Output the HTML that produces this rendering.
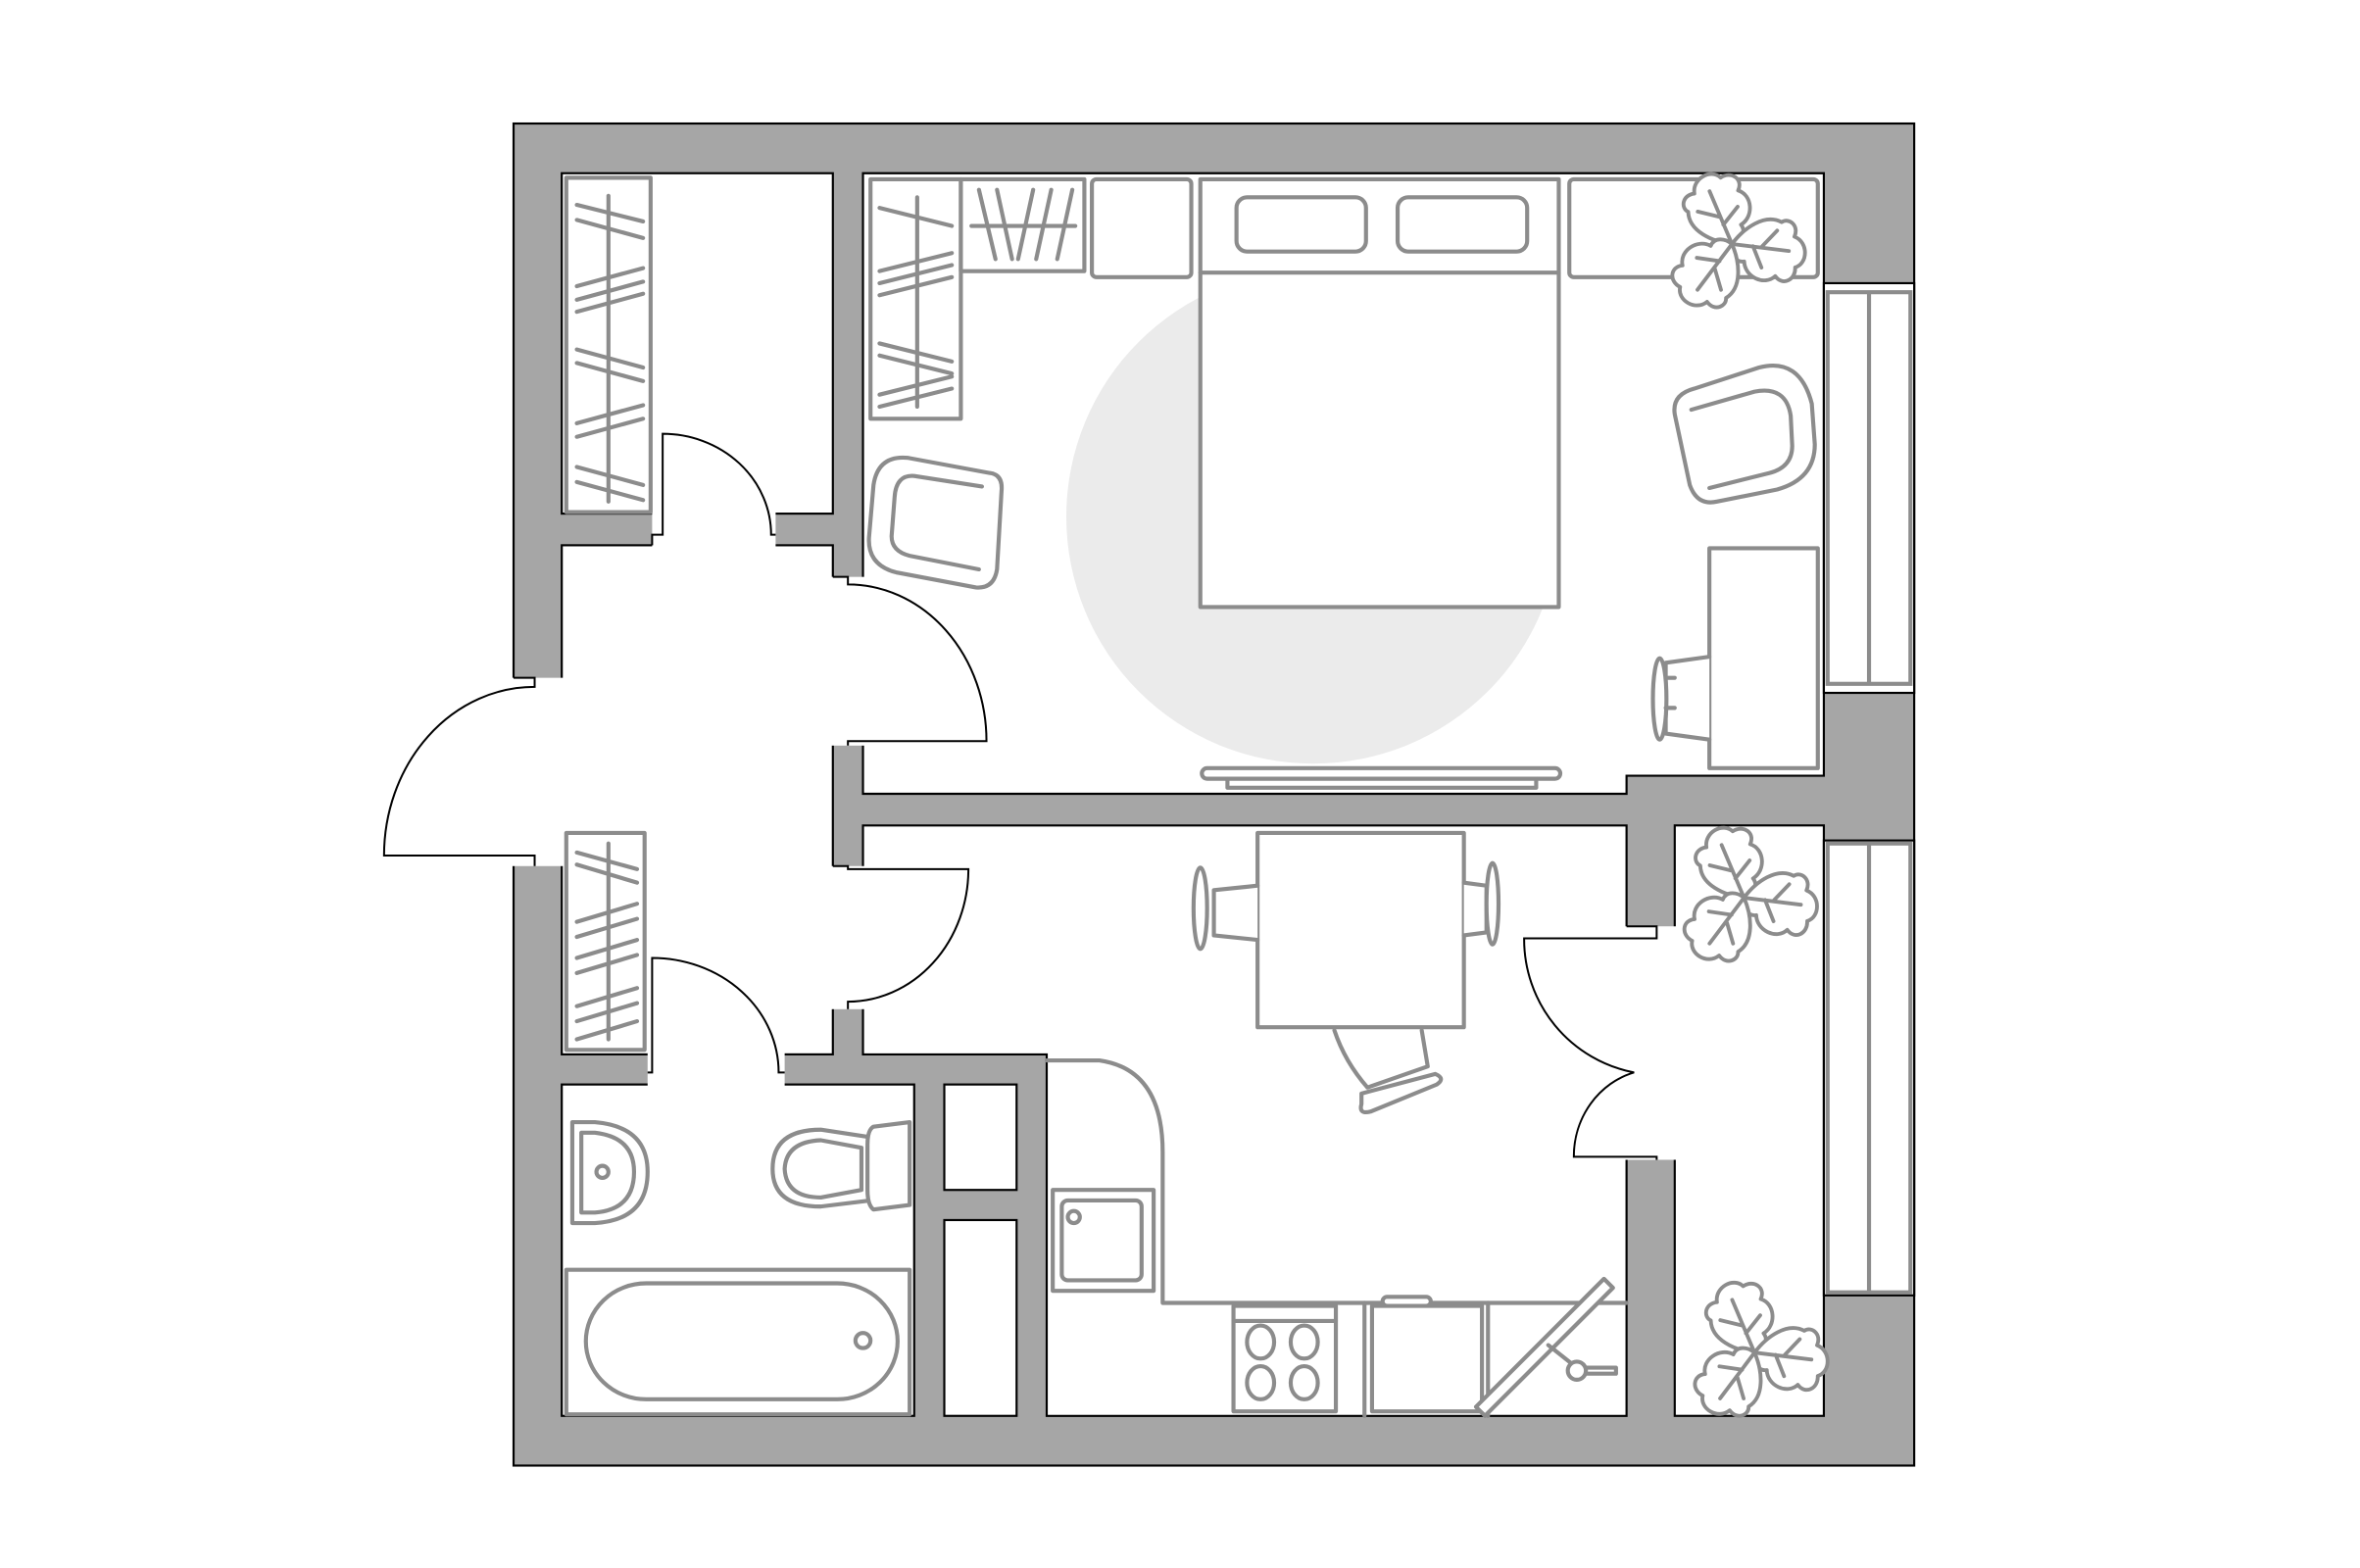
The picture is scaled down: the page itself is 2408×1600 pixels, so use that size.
<!DOCTYPE html>
<html><head><meta charset="utf-8"><style>html,body{margin:0;padding:0;background:#fff}svg{display:block}</style></head>
<body>
<svg width="2408" height="1600" viewBox="0 0 1567 1041" preserveAspectRatio="none" xmlns="http://www.w3.org/2000/svg">
<defs>
<g id="leaf" fill="#fff" stroke="#8c8c8c" stroke-width="2.5" stroke-linejoin="round" stroke-linecap="round">
<path d="M0,0 C-12,-6 -24,-18 -20,-30 C-24,-34 -20,-42 -12,-40 C-10,-50 4,-52 8,-44 C16,-46 22,-38 16,-32 C24,-26 20,-12 10,-10 C12,-4 6,0 0,0 Z"/>
<path d="M0,0 L-2,-38 M-2,-20 L-14,-28 M-1,-14 L12,-22" fill="none"/>
</g>
<g id="plant"><use href="#leaf" transform="rotate(-20)"/><use href="#leaf" transform="rotate(100)"/><use href="#leaf" transform="rotate(220)"/></g>
</defs>
<rect width="1567" height="1041" fill="#fff"/>
<rect x="341" y="82" width="930" height="891" fill="#a6a6a6" stroke="#000" stroke-width="1.4"/>
<g fill="#fff" stroke="#000" stroke-width="1.4">
<rect x="373" y="115" width="180" height="226"/>
<rect x="373" y="362" width="180" height="338"/>
<polygon points="573,115 1211,115 1211,515 1080,515 1080,527 573,527"/>
<polygon points="573,548 1080,548 1080,940 695,940 695,700 573,700"/>
<rect x="1112" y="548" width="99" height="392"/>
<rect x="373" y="720" width="234" height="220"/>
<rect x="627" y="720" width="48" height="70"/>
<rect x="627" y="810" width="48" height="130"/>
<rect x="1211" y="188" width="60" height="272"/>
<rect x="1211" y="558" width="60" height="302"/>
</g>
<g fill="#fff">
<rect x="433" y="340" width="82" height="23"/>
<rect x="552" y="383" width="22" height="112"/>
<rect x="338" y="450" width="36" height="125"/>
<rect x="552" y="575" width="22" height="95"/>
<rect x="430" y="699" width="91" height="22"/>
<rect x="1079" y="615" width="34" height="155"/>
</g>
<circle cx="872" cy="343" r="164" fill="#ebebeb"/>
<g fill="none" stroke="#8c8c8c" stroke-width="2.7">
<rect x="1213.5" y="194" width="55" height="260"/><line x1="1241" y1="194" x2="1241" y2="454"/>
<rect x="1213.5" y="560" width="55" height="298"/><line x1="1241" y1="560" x2="1241" y2="858"/>
</g>
<g fill="none" stroke="#000" stroke-width="1.3">
<path d="M433,362 L433,355 L440,355 L440,288 A72,67 0 0 1 512,355 L515,355"/>
<path d="M553,383 L563,383 L563,388 A92,104 0 0 1 655,492 L563,492 L563,495"/>
<path d="M341,450 L355,450 L355,456 A100,112 0 0 0 255,568 L355,568 L355,575"/>
<path d="M553,575 L563,575 L563,577 L643,577 A80,88 0 0 1 563,665 L563,670"/>
<path d="M430,712 L433,712 L433,636 A84,76 0 0 1 517,712 L521,712"/>
<path d="M1080,615 L1100,615 L1100,623 L1012,623 A90,90 0 0 0 1085,712 A55,58 0 0 0 1045,768 L1100,768 L1100,770"/>
</g>
<g fill="#fff" stroke="#8c8c8c" stroke-width="2.7" stroke-linecap="round" stroke-linejoin="round">
<rect x="376" y="118" width="56" height="222" fill="none"/>
<line x1="404" y1="130" x2="404" y2="333"/>
<path d="M383,136 L427,147 M383,146 L427,158 M383,190 L427,178 M383,199 L427,187 M383,207 L427,195 M383,232 L427,244 M383,241 L427,253 M383,281 L427,269 M383,290 L427,278 M383,310 L427,322 M383,320 L427,332" fill="none"/>
<rect x="578" y="119" width="60" height="159" fill="none"/>
<line x1="609" y1="131" x2="609" y2="270"/>
<path d="M584,138 L632,150 M584,180 L632,168 M584,188 L632,176 M584,196 L632,184 M584,228 L632,240 M584,236 L632,248 M584,270 L632,258 M584,262 L632,250" fill="none"/>
<rect x="638" y="119" width="82" height="61" fill="none"/>
<path d="M645,150 L714,150 M650,126 L661,172 M662,126 L672,172 M676,172 L686,126 M688,172 L698,126 M702,172 L712,126" fill="none"/>
<rect x="725" y="119" width="66" height="65" rx="3" fill="none"/>
<rect x="797" y="119" width="238" height="284"/>
<line x1="797" y1="181" x2="1035" y2="181"/>
<rect x="821" y="131" width="86" height="36" rx="7"/>
<rect x="928" y="131" width="86" height="36" rx="7"/>
<rect x="1042" y="119" width="165" height="65" rx="3"/>
<rect x="798" y="510" width="238" height="7" rx="3.5"/>
<rect x="815" y="517" width="205" height="6"/>
<path d="M657,314 L603,304 Q583,302 580,322 L577,357 Q576,375 595,380 L648,390 Q660,391 662,378 L665,326 Q666,315 657,314 Z"/>
<path d="M652,323 L607,316 Q595,315 594,330 L592,356 Q592,366 604,369 L650,378"/>
<path d="M1125,258 L1168,244 Q1195,237 1203,268 L1205,295 Q1205,318 1180,325 L1140,333 Q1127,336 1122,322 L1112,275 Q1110,262 1125,258 Z"/>
<path d="M1123,272 L1165,260 Q1186,256 1189,276 L1190,296 Q1190,310 1175,314 L1135,324"/>
<rect x="1135" y="364" width="72" height="146"/>
<path d="M1135,436 L1106,440 L1106,487 L1135,491" />
<ellipse cx="1102" cy="464" rx="4.5" ry="27"/>
<path d="M1106,450 L1112,450 M1106,470 L1112,470"/>
<rect x="835" y="553" width="137" height="129"/>
<path d="M835,588 L806,591 L806,621 L835,624"/>
<ellipse cx="797" cy="603" rx="4.5" ry="27"/>
<path d="M972,586 L987,588 L987,619 L972,621"/>
<ellipse cx="991" cy="600" rx="4" ry="27"/>
<path d="M886,684 Q893,705 908,722 L948,708 L944,684"/>
<path d="M904,726 L953,713 Q960,716 954,720 L910,738 Q902,740 904,733 Z"/>
<path d="M695,704 L730,704 Q772,710 772,765 L772,865 L1080,865" fill="none"/>
<rect x="699" y="790" width="67" height="67"/>
<rect x="705" y="797" width="53" height="53" rx="4"/>
<circle cx="713" cy="808" r="4"/>
<rect x="819" y="867" width="68" height="70"/>
<line x1="819" y1="877" x2="887" y2="877"/>
<ellipse cx="837" cy="891" rx="9" ry="11"/><ellipse cx="866" cy="891" rx="9" ry="11"/>
<ellipse cx="837" cy="918" rx="9" ry="11"/><ellipse cx="866" cy="918" rx="9" ry="11"/>
<line x1="906" y1="865" x2="906" y2="940"/>
<rect x="918" y="861" width="32" height="6" rx="3"/>
<rect x="911" y="867" width="73" height="70"/>
<line x1="988" y1="865" x2="988" y2="940"/>
<path d="M980,934 L1065,849 L1071,855 L986,940 Z"/>
<path d="M1028,893 L1047,908 L1073,908 L1073,912 L1047,912" fill="none"/>
<circle cx="1047" cy="910" r="6"/>
<path d="M380,745 L395,745 Q430,748 430,778 Q430,810 395,812 L380,812 Z"/>
<path d="M386,752 L395,752 Q421,755 421,778 Q421,803 395,805 L386,805 Z"/>
<circle cx="400" cy="778" r="4"/>
<path d="M578,755 L545,750 Q513,750 513,776 Q513,801 545,801 L578,797 Z"/>
<path d="M572,762 L545,757 Q522,758 521,776 Q522,795 545,795 L572,790 Z"/>
<path d="M580,748 L604,745 L604,800 L580,803 Q576,800 576,790 L576,760 Q576,750 580,748 Z"/>
<rect x="376" y="843" width="228" height="96"/>
<rect x="389" y="852" width="207" height="77" rx="40"/>
<circle cx="573" cy="890" r="5"/>
<rect x="376" y="553" width="52" height="144" fill="none"/>
<line x1="404" y1="560" x2="404" y2="690"/>
<path d="M383,566 L423,577 M383,574 L423,586 M383,612 L423,600 M383,622 L423,610 M383,636 L423,624 M383,646 L423,634 M383,668 L423,656 M383,678 L423,666 M383,690 L423,678" fill="none"/>
</g>
<use href="#plant" transform="translate(1150,162)"/>
<use href="#plant" transform="translate(1158,596)"/>
<use href="#plant" transform="translate(1165,898)"/>
</svg>
</body></html>
